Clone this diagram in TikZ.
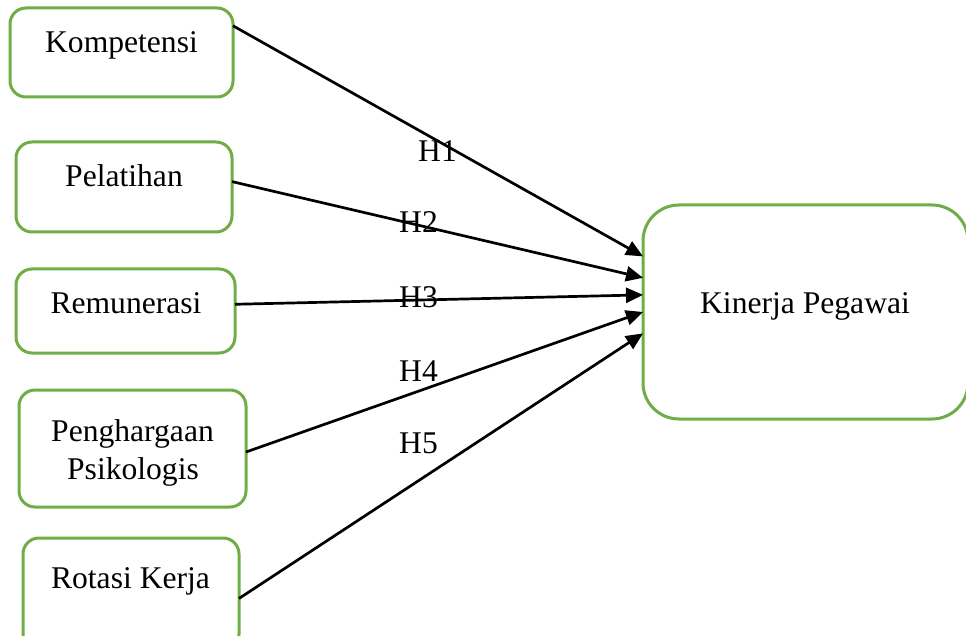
\documentclass[tikz,border=0pt]{standalone}
\usepackage{fontspec}
\setmainfont{Liberation Serif}
\usetikzlibrary{arrows.meta,calc}
\definecolor{boxgreen}{RGB}{112,173,71}
\tikzset{
  varbox/.style={draw=boxgreen, line width=3pt, rounded corners=16pt,
    inner sep=0pt, outer sep=0pt},
  bigbox/.style={varbox, rounded corners=36pt},
  txt/.style={anchor=base, inner sep=0pt, font=\fontsize{31.6}{38}\selectfont},
  hyp/.style={draw=black, line width=2.7pt,
    -{Triangle[length=17pt,width=15pt]}},
}
\begin{document}
\begin{tikzpicture}[x=1pt,y=-1pt]
\useasboundingbox (0,0) rectangle (966,636);
\clip (0,0) rectangle (966,636);
\fill[white] (0,0) rectangle (966,636);

% independent variables
\node[varbox, minimum width=223pt, minimum height=89pt]  (komp) at (121.5,52.5) {};
\node[varbox, minimum width=216pt, minimum height=90pt]  (pel)  at (124,187) {};
\node[varbox, minimum width=219pt, minimum height=84pt]  (rem)  at (125.5,311) {};
\node[varbox, minimum width=227pt, minimum height=117pt] (peng) at (132.5,448.5) {};
\node[varbox, minimum width=216pt, minimum height=112pt] (rot)  at (131,594) {};
% dependent variable
\node[bigbox, minimum width=325pt, minimum height=214pt] (kin) at (805.5,312) {};

% box captions
\node[txt] (tkomp) at (121.5,53) {Kompetensi};
\node[txt] (tpel)  at (124,187) {Pelatihan};
\node[txt] (trem)  at (126,313.5) {Remunerasi};
\node[txt] (tpeng1) at (132.5,441) {Penghargaan};
\node[txt] (tpeng2) at (133,479) {Psikologis};
\node[txt] (trot)  at (130.5,588) {Rotasi Kerja};
\node[txt] (tkin)  at (805,313) {Kinerja Pegawai};

% hypothesis paths
\draw[hyp] ($(komp.north east)!0.20!(komp.south east)$) -- ($(kin.north west)!0.24!(kin.south west)$);
\draw[hyp] ($(pel.north east)!0.44!(pel.south east)$)   -- ($(kin.north west)!0.34!(kin.south west)$);
\draw[hyp] ($(rem.north east)!0.42!(rem.south east)$)   -- ($(kin.north west)!0.42!(kin.south west)$);
\draw[hyp] ($(peng.north east)!0.53!(peng.south east)$) -- ($(kin.north west)!0.50!(kin.south west)$);
\draw[hyp] ($(rot.north east)!0.54!(rot.south east)$)   -- ($(kin.north west)!0.60!(kin.south west)$);

% hypothesis labels
\node[txt] (h1) at (437.5,162) {H1};
\node[txt] (h2) at (418.5,233) {H2};
\node[txt] (h3) at (418.5,307) {H3};
\node[txt] (h4) at (418.5,381) {H4};
\node[txt] (h5) at (418.5,453) {H5};
\end{tikzpicture}
\end{document}
